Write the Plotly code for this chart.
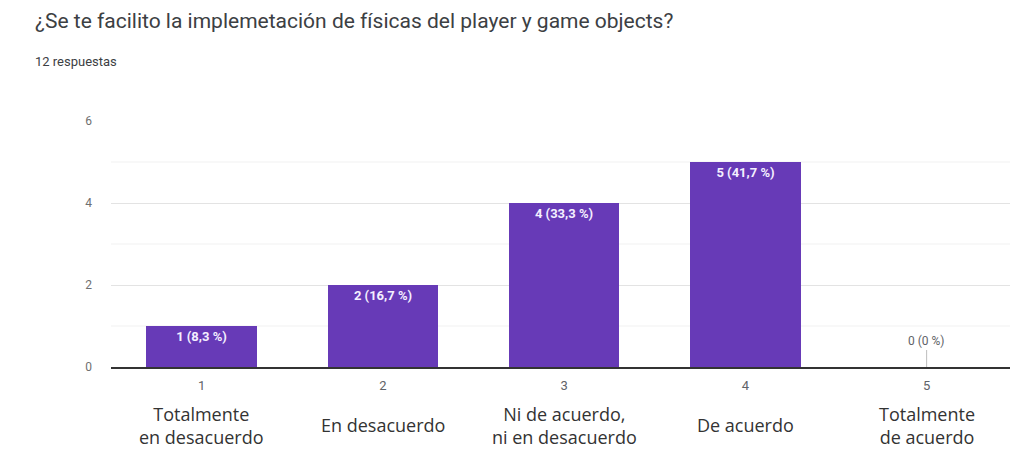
import plotly.graph_objects as go

# Survey results: Likert-scale answers
title = "¿Se te facilito la implemetación de físicas del player y game objects?"
subtitle = "12 respuestas"
scale_points = [1, 2, 3, 4, 5]
categories = [
    "Totalmente<br>en desacuerdo",
    "En desacuerdo",
    "Ni de acuerdo,<br>ni en desacuerdo",
    "De acuerdo",
    "Totalmente<br>de acuerdo",
]
counts = [1, 2, 4, 5, 0]
y_ticks = [0, 2, 4, 6]

total = sum(counts)


def pct_label(c):
    p = round(c / total * 100, 1)
    s = f"{p:g}".replace(".", ",")
    return f"{c} ({s} %)"


labels = [pct_label(c) for c in counts]

BAR = "#673ab7"
FONT = "Roboto, Arial, sans-serif"
L, T, B, W, H = 111, 121, 84, 1010, 451
PW, PH = W - L, H - T - B

fig = go.Figure()
fig.add_trace(go.Bar(
    x=scale_points,
    y=counts,
    width=0.61,
    marker=dict(color=BAR, line=dict(width=0)),
    text=[l if c > 0 else "" for l, c in zip(labels, counts)],
    textposition="inside",
    insidetextanchor="end",
    textangle=0,
    textfont=dict(family=FONT, size=13, color="#f4efff", weight="bold"),
    constraintext="none",
    hoverinfo="skip",
))

# zero-valued answers get a grey label linked to the baseline
for x, c, l in zip(scale_points, counts, labels):
    if c == 0:
        fig.add_annotation(
            x=x, y=c, xref="x", yref="y", text=l,
            showarrow=True, arrowhead=0, arrowwidth=1, arrowcolor="#bdbdbd",
            ax=0, ay=-17, yanchor="bottom",
            font=dict(family=FONT, size=12, color="#5f6368"),
        )

# category names under each scale point
for x, name in zip(scale_points, categories):
    fig.add_annotation(
        x=x, y=-58 / PH, xref="x", yref="paper", text=name,
        showarrow=False, yanchor="middle", xanchor="center",
        font=dict(family="Open Sans, sans-serif", size=18, color="#333333"),
    )

# minor gridlines at odd values
for v in [1, 3, 5]:
    fig.add_hline(y=v, line=dict(color="#f1f1f1", width=1), layer="below")

# heading and response count
fig.add_annotation(
    text=title, xref="paper", yref="paper", x=(33 - L) / PW, y=1 + (T - 21) / PH,
    xanchor="left", yanchor="middle", showarrow=False,
    font=dict(family=FONT, size=21, color="#3c4043"),
)
fig.add_annotation(
    text=subtitle, xref="paper", yref="paper", x=(33 - L) / PW, y=1 + (T - 61) / PH,
    xanchor="left", yanchor="middle", showarrow=False,
    font=dict(family=FONT, size=13, color="#3c4043"),
)

fig.update_layout(
    width=W, height=H,
    margin=dict(l=L, r=0, t=T, b=B),
    paper_bgcolor="white", plot_bgcolor="white",
    showlegend=False,
    bargap=0,
)

fig.update_xaxes(
    range=[0.5, 5.46],
    tickvals=scale_points,
    ticktext=[str(v) for v in scale_points],
    tickfont=dict(family=FONT, size=13, color="#5f6368"),
    showgrid=False, zeroline=False,
    showline=True, linecolor="#333333", linewidth=1.5,
    ticks="", ticklabelstandoff=6,
    fixedrange=True,
)
fig.update_yaxes(
    range=[0, 6],
    tickvals=y_ticks,
    tickfont=dict(family=FONT, size=12, color="#6f6f6f"),
    showgrid=True, gridcolor="#e3e3e3", gridwidth=1,
    zeroline=False, showline=False,
    ticks="", ticklabelstandoff=18,
    fixedrange=True,
)

fig.write_html("out.html")
